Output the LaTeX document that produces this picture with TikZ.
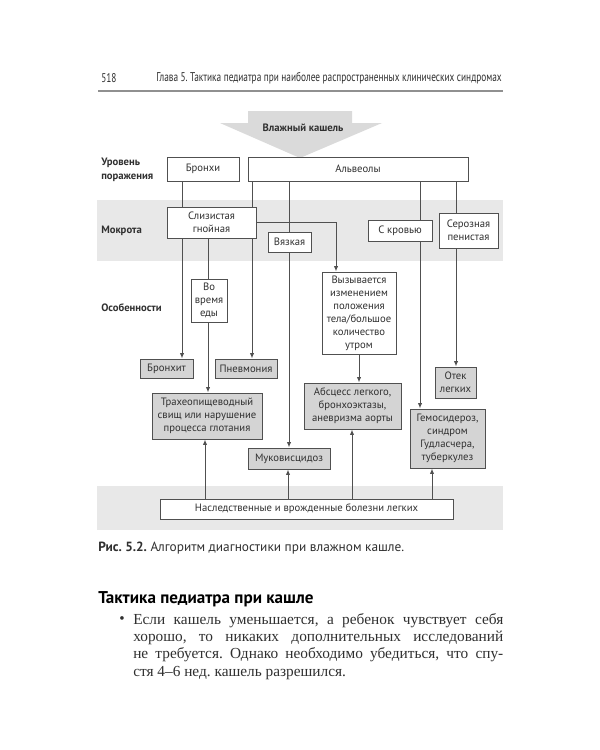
\documentclass[tikz,border=0pt]{standalone}
\usepackage{fontspec}
\setmainfont{Liberation Serif}
\setsansfont{PT Sans}
\newfontfamily\condfont[FakeStretch=0.735]{PT Sans}
\usetikzlibrary{arrows.meta}
\definecolor{band}{HTML}{E8E8E8}
\definecolor{boxgray}{HTML}{D4D4D4}
\definecolor{linec}{HTML}{505050}
\definecolor{arrowgray}{HTML}{DADADA}
\definecolor{rulec}{HTML}{909090}
\definecolor{txt}{HTML}{303030}
\frenchspacing
\begin{document}
\begin{tikzpicture}[x=0.75pt,y=-0.75pt,
  sz/.style 2 args={minimum width=#1*0.75pt, minimum height=#2*0.75pt},
  box/.style={draw=linec, line width=0.75pt, fill=white, inner sep=0pt, align=center,
    font=\sffamily\fontsize{8}{9.75}\selectfont, text=txt},
  rbox/.style={box, fill=boxgray},
  lbl/.style={anchor=west, inner sep=0pt, align=left, font=\sffamily\bfseries\fontsize{8}{10.5}\selectfont, text=txt},
  conn/.style={draw=linec, line width=0.75pt},
  arr/.style={conn, -{Latex[length=4pt,width=3.2pt]}}]
\fill[white] (0,0) rectangle (600,750);
\useasboundingbox (0,0) rectangle (600,750);
% header
\node[anchor=west, inner sep=0pt, font=\condfont\fontsize{9.5}{11}\selectfont, text=txt] (pg) at (101,78) {518};
\node[anchor=east, inner sep=0pt, font=\condfont\fontsize{9.5}{11}\selectfont, text=txt] (hd) at (502,78) {Глава 5. Тактика педиатра при наиболее распространенных клинических синдромах};
\draw[rulec, line width=1.5pt] (98,91) -- (503,91);
% bands
\fill[band] (97,200) rectangle (503,261);
\fill[band] (97,486) rectangle (503,530);
% big arrow
\fill[arrowgray] (248,111) -- (352,111) -- (352,123) -- (382,123) -- (300,158) -- (220,123) -- (248,123) -- cycle;
\node[inner sep=0pt, font=\sffamily\bfseries\fontsize{8}{10}\selectfont, text=txt] (wet) at (303,128) {Влажный кашель};
% row labels
\node[lbl] (lvl) at (101,170) {Уровень\\поражения};
\node[lbl] (mok) at (101,231) {Мокрота};
\node[lbl] (osob) at (101,308) {Особенности};
% column coordinates
\coordinate (x182) at (182,0);
\coordinate (x205) at (205,0);
\coordinate (x208) at (208,0);
\coordinate (x252) at (252,0);
\coordinate (x288) at (288,0);
\coordinate (x289) at (289,0);
\coordinate (x336) at (336,0);
\coordinate (x352) at (352,0);
\coordinate (x359) at (359,0);
\coordinate (x420) at (420,0);
\coordinate (x432) at (432,0);
\coordinate (x456) at (456,0);
% boxes
\node[box, sz={72}{24}] (bron) at (203,169) {Бронхи};
\node[box, sz={220}{24}] (alv) at (358,169) {Альвеолы};
\node[box, sz={89}{31}] (sliz) at (211.5,222.5) {Слизистая\\гнойная};
\node[box, sz={43}{20}] (vyaz) at (289.5,242) {Вязкая};
\node[box, sz={64}{21}] (krov) at (400,230.5) {С кровью};
\node[box, sz={59}{35}] (seroz) at (468.5,230.5) {Серозная\\пенистая};
\node[box, sz={36}{43}] (vo) at (209,300.5) {Во\\время\\еды};
\node[box, sz={74}{82}] (vyz) at (359,313) {Вызывается\\изменением\\положения\\тела/большое\\количество\\утром};
\node[rbox, sz={53}{19}] (bronchit) at (166.5,368.5) {Бронхит};
\node[rbox, sz={62}{19}] (pneum) at (246,368.5) {Пневмония};
\node[rbox, sz={41}{31}] (otek) at (455.5,382.5) {Отек\\легких};
\node[rbox, sz={110}{46}] (trach) at (207,416) {Трахеопищеводный\\свищ или нарушение\\процесса глотания};
\node[rbox, sz={97}{46}] (absc) at (352.5,406) {Абсцесс легкого,\\бронхоэктазы,\\аневризма аорты};
\node[rbox, sz={82}{21}] (muk) at (289,458.5) {Муковисцидоз};
\node[rbox, sz={75}{59}] (gemo) at (447.5,438.5) {Гемосидероз,\\синдром\\Гудласчера,\\туберкулез};
\node[box, sz={293}{20}] (nasl) at (306.5,509) {Наследственные и врожденные болезни легких};
% connectors
\draw[conn] (bron.south -| x182) -- (sliz.north -| x182);
\draw[arr] (sliz.south -| x182) -- (bronchit.north -| x182);
\draw[conn] (alv.south -| x252) -- (sliz.north -| x252);
\draw[arr] (sliz.south -| x252) -- (pneum.north -| x252);
\draw[conn] (sliz.south -| x208) -- (vo.north -| x208);
\draw[arr] (vo.south -| x208) -- (trach.north -| x208);
\draw[arr] (sliz.east) -| (vyz.north -| x336);
\draw[conn] (alv.south -| x289) -- (vyaz.north -| x289);
\draw[arr] (vyaz.south -| x289) -- (muk.north -| x289);
\draw[conn] (alv.south -| x420) -- (krov.north -| x420);
\draw[arr] (krov.south -| x420) -- (gemo.north -| x420);
\draw[conn] (alv.south -| x456) -- (seroz.north -| x456);
\draw[arr] (seroz.south -| x456) -- (otek.north -| x456);
\draw[arr] (vyz.south -| x359) -- (absc.north -| x359);
\draw[arr] (nasl.north -| x205) -- (trach.south -| x205);
\draw[arr] (nasl.north -| x288) -- (muk.south -| x288);
\draw[arr] (nasl.north -| x352) -- (absc.south -| x352);
\draw[arr] (nasl.north -| x432) -- (gemo.south -| x432);
% caption
\node[anchor=west, inner sep=0pt, font=\sffamily\fontsize{10}{12}\selectfont, text=txt] (cap) at (98,548) {\textbf{Рис. 5.2.} Алгоритм диагностики при влажном кашле.};
% section heading
\node[anchor=west, inner sep=0pt, font=\sffamily\bfseries\fontsize{12.8}{14}\selectfont, text=black] (sec) at (98,599) {Тактика педиатра при кашле};
\node[anchor=west, inner sep=0pt, font=\rmfamily\fontsize{11.5}{13}\selectfont, text=txt] (bul) at (119,620) {•};
\node[anchor=north west, inner sep=0pt, text width=277.5pt, align=justify, font=\rmfamily\fontsize{11.5}{13}\selectfont\frenchspacing, text=txt] (body) at (133,613)
{Если кашель уменьшается, а ребенок чувствует себя\linebreak хорошо, то никаких дополнительных исследований\linebreak не требуется. Однако необходимо убедиться, что спу-\linebreak стя 4–6 нед. кашель разрешился.};
\end{tikzpicture}
\end{document}
